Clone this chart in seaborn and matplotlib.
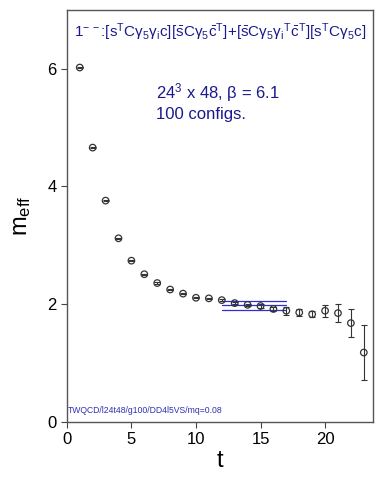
import numpy as np
import pandas as pd
import matplotlib
matplotlib.use("Agg")
import matplotlib.pyplot as plt
import seaborn as sns

# effective mass data
t = [1, 2, 3, 4, 5, 6, 7, 8, 9, 10, 11, 12, 13, 14, 15, 16, 17, 18, 19, 20, 21, 22, 23]
m_eff = [6.02, 4.66, 3.76, 3.12, 2.74, 2.51, 2.36, 2.25, 2.18, 2.11, 2.10, 2.07,
         2.02, 1.99, 1.97, 1.92, 1.89, 1.86, 1.83, 1.89, 1.85, 1.68, 1.18]
m_err = [0.01, 0.01, 0.01, 0.01, 0.01, 0.01, 0.01, 0.01, 0.01, 0.01, 0.01, 0.015,
         0.02, 0.02, 0.03, 0.04, 0.07, 0.06, 0.05, 0.10, 0.155, 0.24, 0.47]

# plateau fit: central value and error band over fit range
fit_t = [12, 17]
fit_mass = 1.98
fit_err = 0.075

sns.set_theme(style="ticks")
plt.rcParams['font.family'] = ['Liberation Sans', 'DejaVu Sans']
plt.rcParams['mathtext.fontset'] = 'custom'
plt.rcParams['mathtext.rm'] = 'Liberation Sans'
plt.rcParams['mathtext.it'] = 'Liberation Sans:italic'

fig = plt.figure(figsize=(3.82, 4.91), dpi=100)
ax = fig.add_axes([0.175, 0.1405, 0.801, 0.8395])

df = pd.DataFrame({'t': t, 'm': m_eff, 'err': m_err})
ax.errorbar(df['t'], df['m'], yerr=df['err'], fmt='none', ecolor='#333333',
            elinewidth=0.8, capsize=2, capthick=0.8, zorder=2)
sns.scatterplot(data=df, x='t', y='m', ax=ax, marker='o', s=22,
                facecolor='none', edgecolor='#333333', linewidth=0.9, zorder=3)

blue = '#3030d0'
for level in [fit_mass - fit_err, fit_mass, fit_mass + fit_err]:
    line = pd.DataFrame({'t': fit_t, 'm': [level, level]})
    sns.lineplot(data=line, x='t', y='m', ax=ax, color=blue, linewidth=0.9, zorder=1)

ax.set_xlim(0, 23.7)
ax.set_ylim(0, 7)
ax.set_xticks([0, 5, 10, 15, 20])
ax.set_yticks([0, 2, 4, 6])
ax.tick_params(labelsize=12, length=4, width=0.8, color='#444444', labelcolor='black')
ax.set_xlabel('t', fontsize=17, labelpad=2, color='black')
ax.set_ylabel(r'm$_{\rm eff}$', fontsize=17, labelpad=10, color='black')
for s in ax.spines.values():
    s.set_color('#555555')
    s.set_linewidth(1.0)

navy = '#1a1a8c'
title = (r"1$^{-\,-}$:[s$^{\rm T}$Cγ$_5$γ$_{\rm i}$c][$\bar{\rm s}$Cγ$_5\bar{\rm c}^{\rm T}$]"
         r"+[$\bar{\rm s}$Cγ$_5$γ$_{\rm i}{}^{\rm T}\bar{\rm c}^{\rm T}$][s$^{\rm T}$Cγ$_5$c]")
ax.text(0.5, 0.945, title, transform=ax.transAxes, ha='center', va='center',
        fontsize=11, color=navy)
ax.text(0.29, 0.80, r"24$^3$ x 48, β = 6.1", transform=ax.transAxes,
        fontsize=12, color=navy, va='center')
ax.text(0.29, 0.745, "100 configs.", transform=ax.transAxes,
        fontsize=12, color=navy, va='center')
ax.text(0.004, 0.016, "TWQCD/l24t48/g100/DD4l5VS/mq=0.08", transform=ax.transAxes,
        fontsize=6.2, color='#3030b0', va='bottom')

fig.savefig('out.png', dpi=100)
